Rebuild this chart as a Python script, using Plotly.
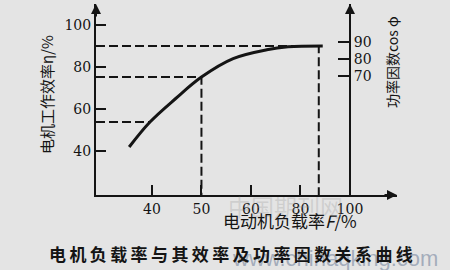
import plotly.graph_objects as go

# ---- data (x in equally spaced tick-position units) ----
load_pos = [35.4, 39.6, 44.8, 50.0, 56.4, 63.2, 67.5, 74.5]
efficiency = [41.9, 53.8, 65.0, 75.2, 84.0, 88.2, 89.6, 90.0]

x_tick_pos = [40, 50, 60, 70, 80]
x_tick_text = ["40", "50", "60", "80", "100"]
eff_ticks = [40, 60, 80, 100]
pf_ticks = [70, 80, 90]

# guide (dashed) lines: (x where it meets curve, efficiency level, vertical drop?)
guide_x = [73.7, 50.0, 39.6]
guide_y = [90.0, 75.2, 53.8]
guide_drop = [True, True, False]

X_MIN, X_MAX = 28.7, 89.5
Y_MIN, Y_MAX = 19.05, 110.0

INK = "#141414"
BG = "#e4e4e4"
NUM_FONT = "DejaVu Serif"
CJK = "Noto Sans CJK SC"

fig = go.Figure()

# dashed guides
for gx, gy, drop in zip(guide_x, guide_y, guide_drop):
    xs = [X_MIN, gx] + ([gx] if drop else [])
    ys = [gy, gy] + ([Y_MIN] if drop else [])
    fig.add_trace(go.Scatter(x=xs, y=ys, mode="lines",
                             line=dict(color=INK, width=2, dash="9px,4px"),
                             hoverinfo="skip", showlegend=False))

# efficiency curve
fig.add_trace(go.Scatter(x=load_pos, y=efficiency, mode="lines",
                         line=dict(color=INK, width=3, shape="spline", smoothing=1.0),
                         showlegend=False))

# dummy trace for right axis
fig.add_trace(go.Scatter(x=[None], y=[None], yaxis="y2", showlegend=False))

L, R, T, B = 96, 53, 4, 75
W, H = 450, 270
pw, ph = W - L - R, H - T - B


def px(xp, yp):
    return (xp - L) / pw, (H - B - yp) / ph


pos_right = (350 - L) / pw

fig.update_layout(
    width=W, height=H,
    margin=dict(l=L, r=R, t=T, b=B),
    paper_bgcolor=BG, plot_bgcolor=BG,
    xaxis=dict(range=[X_MIN, X_MAX], tickvals=x_tick_pos, ticktext=x_tick_text,
               showline=True, linecolor=INK, linewidth=2, ticks="inside",
               ticklen=10, tickwidth=2, tickcolor=INK, showgrid=False,
               zeroline=False, tickfont=dict(family=NUM_FONT, size=14, color=INK)),
    yaxis=dict(range=[Y_MIN, Y_MAX], tickvals=eff_ticks,
               showline=True, linecolor=INK, linewidth=2, ticks="inside",
               ticklen=10, tickwidth=2, tickcolor=INK, showgrid=False,
               zeroline=False, tickfont=dict(family=NUM_FONT, size=14, color=INK)),
    yaxis2=dict(overlaying="y", anchor="free", position=pos_right, side="right",
                range=[0, 112.35], tickvals=pf_ticks,
                showline=True, linecolor=INK, linewidth=2, ticks="inside",
                ticklen=11, tickwidth=2, tickcolor=INK, showgrid=False,
                zeroline=False, tickfont=dict(family=NUM_FONT, size=14, color=INK)),
)

ann = []
# axis arrowheads
ann.append(dict(xref="paper", yref="paper", x=1, y=0, ax=-14, ay=0, text="",
                showarrow=True, arrowhead=2, arrowsize=1, arrowwidth=2, arrowcolor=INK))
ann.append(dict(xref="paper", yref="paper", x=0, y=1, ax=0, ay=14, text="",
                showarrow=True, arrowhead=2, arrowsize=1, arrowwidth=2, arrowcolor=INK))
ann.append(dict(xref="paper", yref="paper", x=pos_right, y=1, ax=0, ay=14, text="",
                showarrow=True, arrowhead=2, arrowsize=1, arrowwidth=2, arrowcolor=INK))

# watermarks (drawn first so real text sits on top)
x0, y0 = px(285, 206)
ann.append(dict(xref="paper", yref="paper", x=x0, y=y0, text="中国期刊网",
                showarrow=False, xanchor="center", yanchor="middle",
                font=dict(family=CJK, size=23, color="rgba(150,150,150,0.28)")))
x0, y0 = px(335, 258)
ann.append(dict(xref="paper", yref="paper", x=x0, y=y0, text="www.chinaqking.com",
                showarrow=False, xanchor="center", yanchor="middle",
                font=dict(family="Liberation Sans", size=22, color="rgba(120,135,160,0.6)")))

# titles
x0, y0 = px(46, 95)
ann.append(dict(xref="paper", yref="paper", x=x0, y=y0, text="电机工作效率η/%",
                textangle=-90, showarrow=False, xanchor="center", yanchor="middle",
                font=dict(family=CJK, size=15, color=INK)))
x0, y0 = px(392, 62)
ann.append(dict(xref="paper", yref="paper", x=x0, y=y0, text="功率因数cos φ",
                textangle=-90, showarrow=False, xanchor="center", yanchor="middle",
                font=dict(family=CJK, size=14, color=INK)))
x0, y0 = px(290, 220)
ann.append(dict(xref="paper", yref="paper", x=x0, y=y0,
                text="电动机负载率<i>F</i>/%", showarrow=False,
                xanchor="center", yanchor="middle",
                font=dict(family=CJK, size=17, color=INK)))
x0, y0 = px(231, 253)
cap = "\u2009".join("电机负载率与其效率及功率因数关系曲线")
ann.append(dict(xref="paper", yref="paper", x=x0, y=y0, text="<b>" + cap + "</b>",
                showarrow=False, xanchor="center", yanchor="middle",
                font=dict(family=CJK, size=17, color=INK)))

fig.update_layout(annotations=ann)
fig.write_html("out.html")
